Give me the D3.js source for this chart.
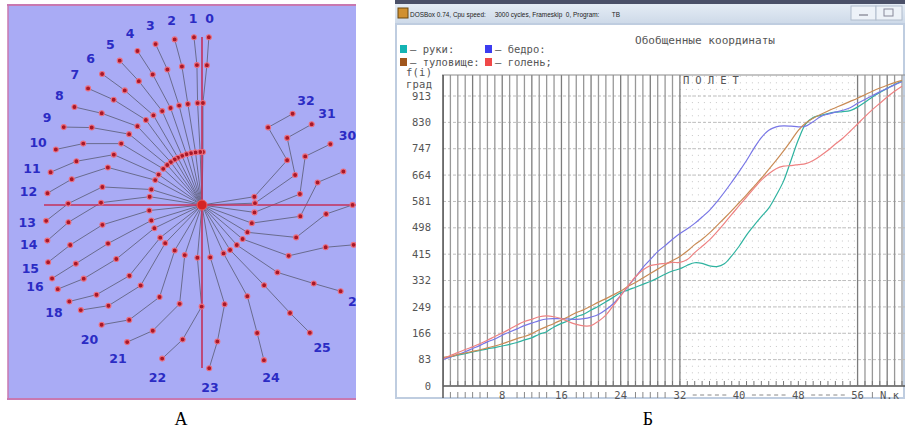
<!DOCTYPE html>
<html lang="ru">
<head>
    <meta charset="UTF-8">
    <title>giant-swing</title>
    <script src="https://cdn.jsdelivr.net/npm/d3@7"></script>
    <style>
        body{ margin: 0; background: #fff; }
        svg{ display: block; }
        .mono{ font-family: "DejaVu Sans Mono", monospace; font-size: 10.5px; fill: #555; }
        .num{ font-family: "DejaVu Sans", sans-serif; font-size: 12.5px; font-weight: bold; fill: #2b2bc4; }
    </style>
</head>
<body>
<svg id="chart" width="905" height="432"></svg>
<script>
    // generalized coordinates, degrees, frames 0..62
    var arms = [89,92,97,102,107,112,117,121,126,131,
        137,145,152,163,171,186,197,206,218,226,
        239,251,265,279,294,302,311,320,329,340,
        352,362,369,380,388,386,378,376,385,410,
        440,475,505,533,560,600,645,710,775,825,
        845,852,858,862,864,867,878,893,910,924,
        937,949,960];
    var torso = [90,93,99,104,109,114,120,126,133,141,
        149,156,165,177,187,197,208,219,231,240,
        252,264,275,287,299,314,326,340,354,368,
        382,395,408,425,445,462,482,505,528,552,
        577,602,628,654,682,710,740,772,805,828,
        843,855,866,876,886,896,906,917,928,938,
        947,955,962];
    var thigh = [84,91,99,108,118,128,139,148,160,170,
        180,190,198,206,211,212,212,211,210,212,
        217,225,240,259,285,313,343,373,398,423,
        442,462,480,495,512,532,553,580,610,642,
        675,710,748,782,805,816,819,818,816,818,
        832,848,856,862,868,876,890,902,914,926,
        937,948,958];
    var shin = [86,96,105,115,123,133,144,156,167,179,
        192,203,210,218,221,218,212,202,194,189,
        190,204,223,253,284,315,344,365,379,383,
        386,389,389,398,420,440,460,485,512,540,
        568,595,622,648,668,684,692,694,697,700,
        710,725,742,762,780,802,825,848,870,890,
        910,928,944];

    // segment lengths (arms, torso, thigh, shin) in model units
    var segLen = [0.53, 0.49, 0.38, 0.28];
    var posesShown = 33;               // frames 0..32 in panel A
    var labelFrames = [0,1,2,3,4,5,6,7,8,9,10,11,12,13,14,15,16,18,20,21,22,23,24,25,26,30,31,32];

    var yTicks = [0,83,166,249,332,415,498,581,664,747,830,913];
    var xTicks = [8,16,24,32,40,48,56];
    var flight = [32, 56];
    var lastFrame = 62;

    var seriesB = [
        {name: 'руки', data: arms, line: '#2fb3a0', box: '#14b4b4'},
        {name: 'бедро', data: thigh, line: '#7876e6', box: '#3c3cf0'},
        {name: 'туловище', data: torso, line: '#c98b55', box: '#a0561c'},
        {name: 'голень', data: shin, line: '#ee8282', box: '#f04848'}
    ];

    var svg = d3.select('#chart');
    var defs = svg.append('defs');

    // ================= panel A =================
    var ax = d3.scaleLinear().domain([-1.94, 1.54]).range([8, 356]);
    var ay = d3.scaleLinear().domain([2.0, -1.94]).range([5, 399]);

    defs.append('clipPath').attr('id', 'clipA')
        .append('rect').attr('x', 8).attr('y', 5).attr('width', 348).attr('height', 394);

    var gA = svg.append('g').attr('clip-path', 'url(#clipA)');
    gA.append('rect').attr('x', 8).attr('y', 5).attr('width', 348).attr('height', 394)
        .attr('fill', '#a9abf5');

    var chain = [arms, torso, thigh, shin];
    function pose(f) {
        var x = 0, y = 0, pts = [[0, 0]];
        chain.forEach(function (s, k) {
            var a = s[f] * Math.PI / 180;
            x += segLen[k] * Math.cos(a);
            y += segLen[k] * Math.sin(a);
            pts.push([x, y]);
        });
        return pts;
    }
    var poses = d3.range(0, posesShown).map(pose);

    var lineA = d3.line()
        .x(function (d) { return ax(d[0]); })
        .y(function (d) { return ay(d[1]); });

    gA.append('g').selectAll('path')
        .data(poses).enter()
        .append('path')
        .attr('d', lineA)
        .attr('fill', 'none')
        .attr('stroke', '#696b8e')
        .attr('stroke-width', 1);

    // red axes
    gA.append('line')
        .attr('x1', ax(-1.58)).attr('x2', ax(1.54))
        .attr('y1', ay(0)).attr('y2', ay(0))
        .attr('stroke', '#c4305a').attr('stroke-width', 1.6);
    gA.append('line')
        .attr('x1', ax(0)).attr('x2', ax(0))
        .attr('y1', ay(1.68)).attr('y2', ay(-1.63))
        .attr('stroke', '#c4305a').attr('stroke-width', 1.6);

    var joints = [];
    poses.forEach(function (p) { p.slice(1).forEach(function (q) { joints.push(q); }); });
    gA.append('g').selectAll('circle')
        .data(joints).enter()
        .append('circle')
        .attr('cx', function (d) { return ax(d[0]); })
        .attr('cy', function (d) { return ay(d[1]); })
        .attr('r', 2.5)
        .attr('fill', '#a81828')
        .attr('stroke', '#ec6f80')
        .attr('stroke-width', 1.1);

    gA.append('circle').attr('cx', ax(0)).attr('cy', ay(0)).attr('r', 5)
        .attr('fill', '#d42424').attr('stroke', '#f06060');

    gA.append('g').selectAll('text')
        .data(labelFrames).enter()
        .append('text')
        .attr('class', 'num')
        .attr('text-anchor', 'middle')
        .attr('dominant-baseline', 'central')
        .attr('x', function (f) {
            var t = poses[f][4], r = Math.hypot(t[0], t[1]);
            return ax(t[0] * (r + 0.19) / r);
        })
        .attr('y', function (f) {
            var t = poses[f][4], r = Math.hypot(t[0], t[1]);
            return ay(t[1] * (r + 0.19) / r);
        })
        .text(function (f) { return f; });

    // panel A frame
    svg.append('line').attr('x1', 7).attr('x2', 356).attr('y1', 5).attr('y2', 5)
        .attr('stroke', '#c878b0').attr('stroke-width', 2);
    svg.append('line').attr('x1', 7).attr('x2', 356).attr('y1', 399).attr('y2', 399)
        .attr('stroke', '#c878b0').attr('stroke-width', 2);
    svg.append('line').attr('x1', 8).attr('x2', 8).attr('y1', 5).attr('y2', 399)
        .attr('stroke', '#c878b0').attr('stroke-width', 1.5);

    svg.append('text').attr('x', 181).attr('y', 425).attr('text-anchor', 'middle')
        .style('font-family', '"Liberation Serif", serif').style('font-size', '18px')
        .text('А');

    // ================= panel B =================
    var bx = d3.scaleLinear().domain([0, lastFrame]).range([443, 902]);
    var by = d3.scaleLinear().domain([0, 913]).range([386, 96]);
    var plotTop = 75, plotRight = 905;

    // window chrome
    var grad = defs.append('linearGradient').attr('id', 'titleGrad')
        .attr('x1', 0).attr('x2', 0).attr('y1', 0).attr('y2', 1);
    grad.append('stop').attr('offset', '0%').attr('stop-color', '#e4ecf5');
    grad.append('stop').attr('offset', '100%').attr('stop-color', '#cdd9e8');

    svg.append('rect').attr('x', 395).attr('y', 0).attr('width', 510).attr('height', 4).attr('fill', '#4a5068');
    svg.append('rect').attr('x', 395).attr('y', 4).attr('width', 510).attr('height', 20).attr('fill', 'url(#titleGrad)');
    svg.append('rect').attr('x', 396).attr('y', 24).attr('width', 508).attr('height', 374)
        .attr('fill', '#fff').attr('stroke', '#bfcde0').attr('stroke-width', 2);
    svg.append('rect').attr('x', 398).attr('y', 8).attr('width', 10).attr('height', 10)
        .attr('fill', '#d09030').attr('stroke', '#6a4810');
    svg.append('rect').attr('x', 851).attr('y', 6).attr('width', 25).attr('height', 14)
        .attr('fill', '#edf2f8').attr('stroke', '#b0bccc');
    svg.append('rect').attr('x', 876).attr('y', 6).attr('width', 26).attr('height', 14)
        .attr('fill', '#edf2f8').attr('stroke', '#b0bccc');
    svg.append('line').attr('x1', 859).attr('x2', 868).attr('y1', 15).attr('y2', 15).attr('stroke', '#667');
    svg.append('rect').attr('x', 884).attr('y', 9).attr('width', 9).attr('height', 7)
        .attr('fill', 'none').attr('stroke', '#889');

    svg.append('text')
        .attr('x', 410).attr('y', 17)
        .attr('textLength', 210)
        .attr('lengthAdjust', 'spacingAndGlyphs')
        .style('font-family', '"Liberation Sans", sans-serif')
        .style('font-size', '8px')
        .style('white-space', 'pre')
        .attr('fill', '#222')
        .text('DOSBox 0.74, Cpu speed:     3000 cycles, Frameskip  0, Program:       TB');

    // headings and legend
    svg.append('text').attr('class', 'mono').attr('x', 635).attr('y', 44)
        .attr('textLength', 140).attr('lengthAdjust', 'spacingAndGlyphs')
        .text('Обобщенные координаты');

    var legendPos = [[400, 49], [485, 49], [400, 62], [485, 62]];
    var legendLabel = ['– руки:', '– бедро:', '– туловище:', '– голень;'];
    var lg = svg.append('g').selectAll('g')
        .data(seriesB).enter()
        .append('g')
        .attr('transform', function (d, i) { return 'translate(' + legendPos[i][0] + ',' + legendPos[i][1] + ')'; });
    lg.append('rect').attr('x', 0).attr('y', -4).attr('width', 7).attr('height', 8)
        .attr('fill', function (d) { return d.box; });
    lg.append('text').attr('class', 'mono').attr('x', 10).attr('y', 3.5)
        .text(function (d, i) { return legendLabel[i]; });

    svg.append('text').attr('class', 'mono').attr('x', 406).attr('y', 76)
        .attr('textLength', 26).text('f(i)');
    svg.append('text').attr('class', 'mono').attr('x', 406).attr('y', 88)
        .attr('textLength', 26).text('град');

    defs.append('clipPath').attr('id', 'clipB')
        .append('rect').attr('x', 443).attr('y', plotTop).attr('width', plotRight - 443).attr('height', 386 - plotTop);
    var gB = svg.append('g').attr('clip-path', 'url(#clipB)');

    // fine dotted grid in the flight zone
    var fineRows = d3.range(0, 1000, 83 / 4);
    gB.append('g').selectAll('line')
        .data(fineRows).enter()
        .append('line')
        .attr('x1', bx(flight[0])).attr('x2', bx(flight[1]))
        .attr('y1', function (d) { return by(d); }).attr('y2', function (d) { return by(d); })
        .attr('stroke', '#c6c6c6').attr('stroke-width', 1)
        .attr('stroke-dasharray', '1,5');

    // horizontal grid at tick levels
    gB.append('g').selectAll('line')
        .data(yTicks.slice(1)).enter()
        .append('line')
        .attr('x1', bx(0)).attr('x2', plotRight)
        .attr('y1', function (d) { return by(d); }).attr('y2', function (d) { return by(d); })
        .attr('stroke', '#bdbdbd').attr('stroke-width', 1)
        .attr('stroke-dasharray', '3,2');

    // vertical frame lines (not in flight zone)
    var frameLines = d3.range(0, lastFrame + 1).filter(function (f) { return f <= flight[0] || f >= flight[1]; });
    gB.append('g').selectAll('line')
        .data(frameLines).enter()
        .append('line')
        .attr('x1', function (f) { return bx(f); }).attr('x2', function (f) { return bx(f); })
        .attr('y1', plotTop).attr('y2', by(0))
        .attr('stroke', function (f) { return f % 4 === 0 ? '#7c7c7c' : '#989898'; })
        .attr('stroke-width', 1.3);

    // curves
    var lineB = d3.line()
        .x(function (d, i) { return bx(i); })
        .y(function (d) { return by(d); })
        .curve(d3.curveCatmullRom);
    gB.append('g').selectAll('path')
        .data(seriesB).enter()
        .append('path')
        .attr('d', function (d) { return lineB(d.data); })
        .attr('fill', 'none')
        .attr('stroke', function (d) { return d.line; })
        .attr('stroke-width', 1.2);

    gB.append('text').attr('class', 'mono').attr('x', bx(flight[0]) + 3).attr('y', 84)
        .attr('textLength', 56).text('П О Л Е Т');

    // frame of the plot
    svg.append('line').attr('x1', 442).attr('x2', plotRight).attr('y1', plotTop).attr('y2', plotTop)
        .attr('stroke', '#8c8c8c').attr('stroke-width', 1.2);
    svg.append('line').attr('x1', bx(0)).attr('x2', bx(0)).attr('y1', plotTop).attr('y2', 398)
        .attr('stroke', '#555').attr('stroke-width', 1.5);
    svg.append('line').attr('x1', bx(0)).attr('x2', plotRight).attr('y1', by(0)).attr('y2', by(0))
        .attr('stroke', '#555').attr('stroke-width', 1.5);

    // small ticks above the base line
    svg.append('g').selectAll('line')
        .data(d3.range(0, lastFrame + 1)).enter()
        .append('line')
        .attr('x1', function (f) { return bx(f); }).attr('x2', function (f) { return bx(f); })
        .attr('y1', by(0) - 5).attr('y2', by(0))
        .attr('stroke', '#777').attr('stroke-width', 1);

    // ticks below the axis
    var minor = d3.range(1, lastFrame + 1).filter(function (f) {
        return xTicks.indexOf(f) < 0 && xTicks.indexOf(f - 1) < 0 && xTicks.indexOf(f + 1) < 0 && f < 59;
    });
    svg.append('g').selectAll('line')
        .data(minor).enter()
        .append('line')
        .attr('x1', function (f) { return f > flight[0] && f < flight[1] ? bx(f) - 2 : bx(f); })
        .attr('x2', function (f) { return f > flight[0] && f < flight[1] ? bx(f) + 2 : bx(f); })
        .attr('y1', function (f) { return f > flight[0] && f < flight[1] ? 395 : 392; })
        .attr('y2', function (f) { return f > flight[0] && f < flight[1] ? 395 : 398; })
        .attr('stroke', '#888').attr('stroke-width', 1);

    svg.append('g').selectAll('text')
        .data(xTicks).enter()
        .append('text').attr('class', 'mono')
        .attr('x', function (d) { return bx(d); }).attr('y', 399)
        .attr('text-anchor', 'middle')
        .text(function (d) { return d; });
    svg.append('text').attr('class', 'mono').attr('x', 880).attr('y', 399).text('N.к');

    svg.append('g').selectAll('text')
        .data(yTicks).enter()
        .append('text').attr('class', 'mono')
        .attr('x', 431).attr('y', function (d) { return by(d); })
        .attr('dy', '0.35em')
        .attr('text-anchor', 'end')
        .text(function (d) { return d; });

    svg.append('text').attr('x', 648).attr('y', 425).attr('text-anchor', 'middle')
        .style('font-family', '"Liberation Serif", serif').style('font-size', '18px')
        .text('Б');
</script>
</body>
</html>
